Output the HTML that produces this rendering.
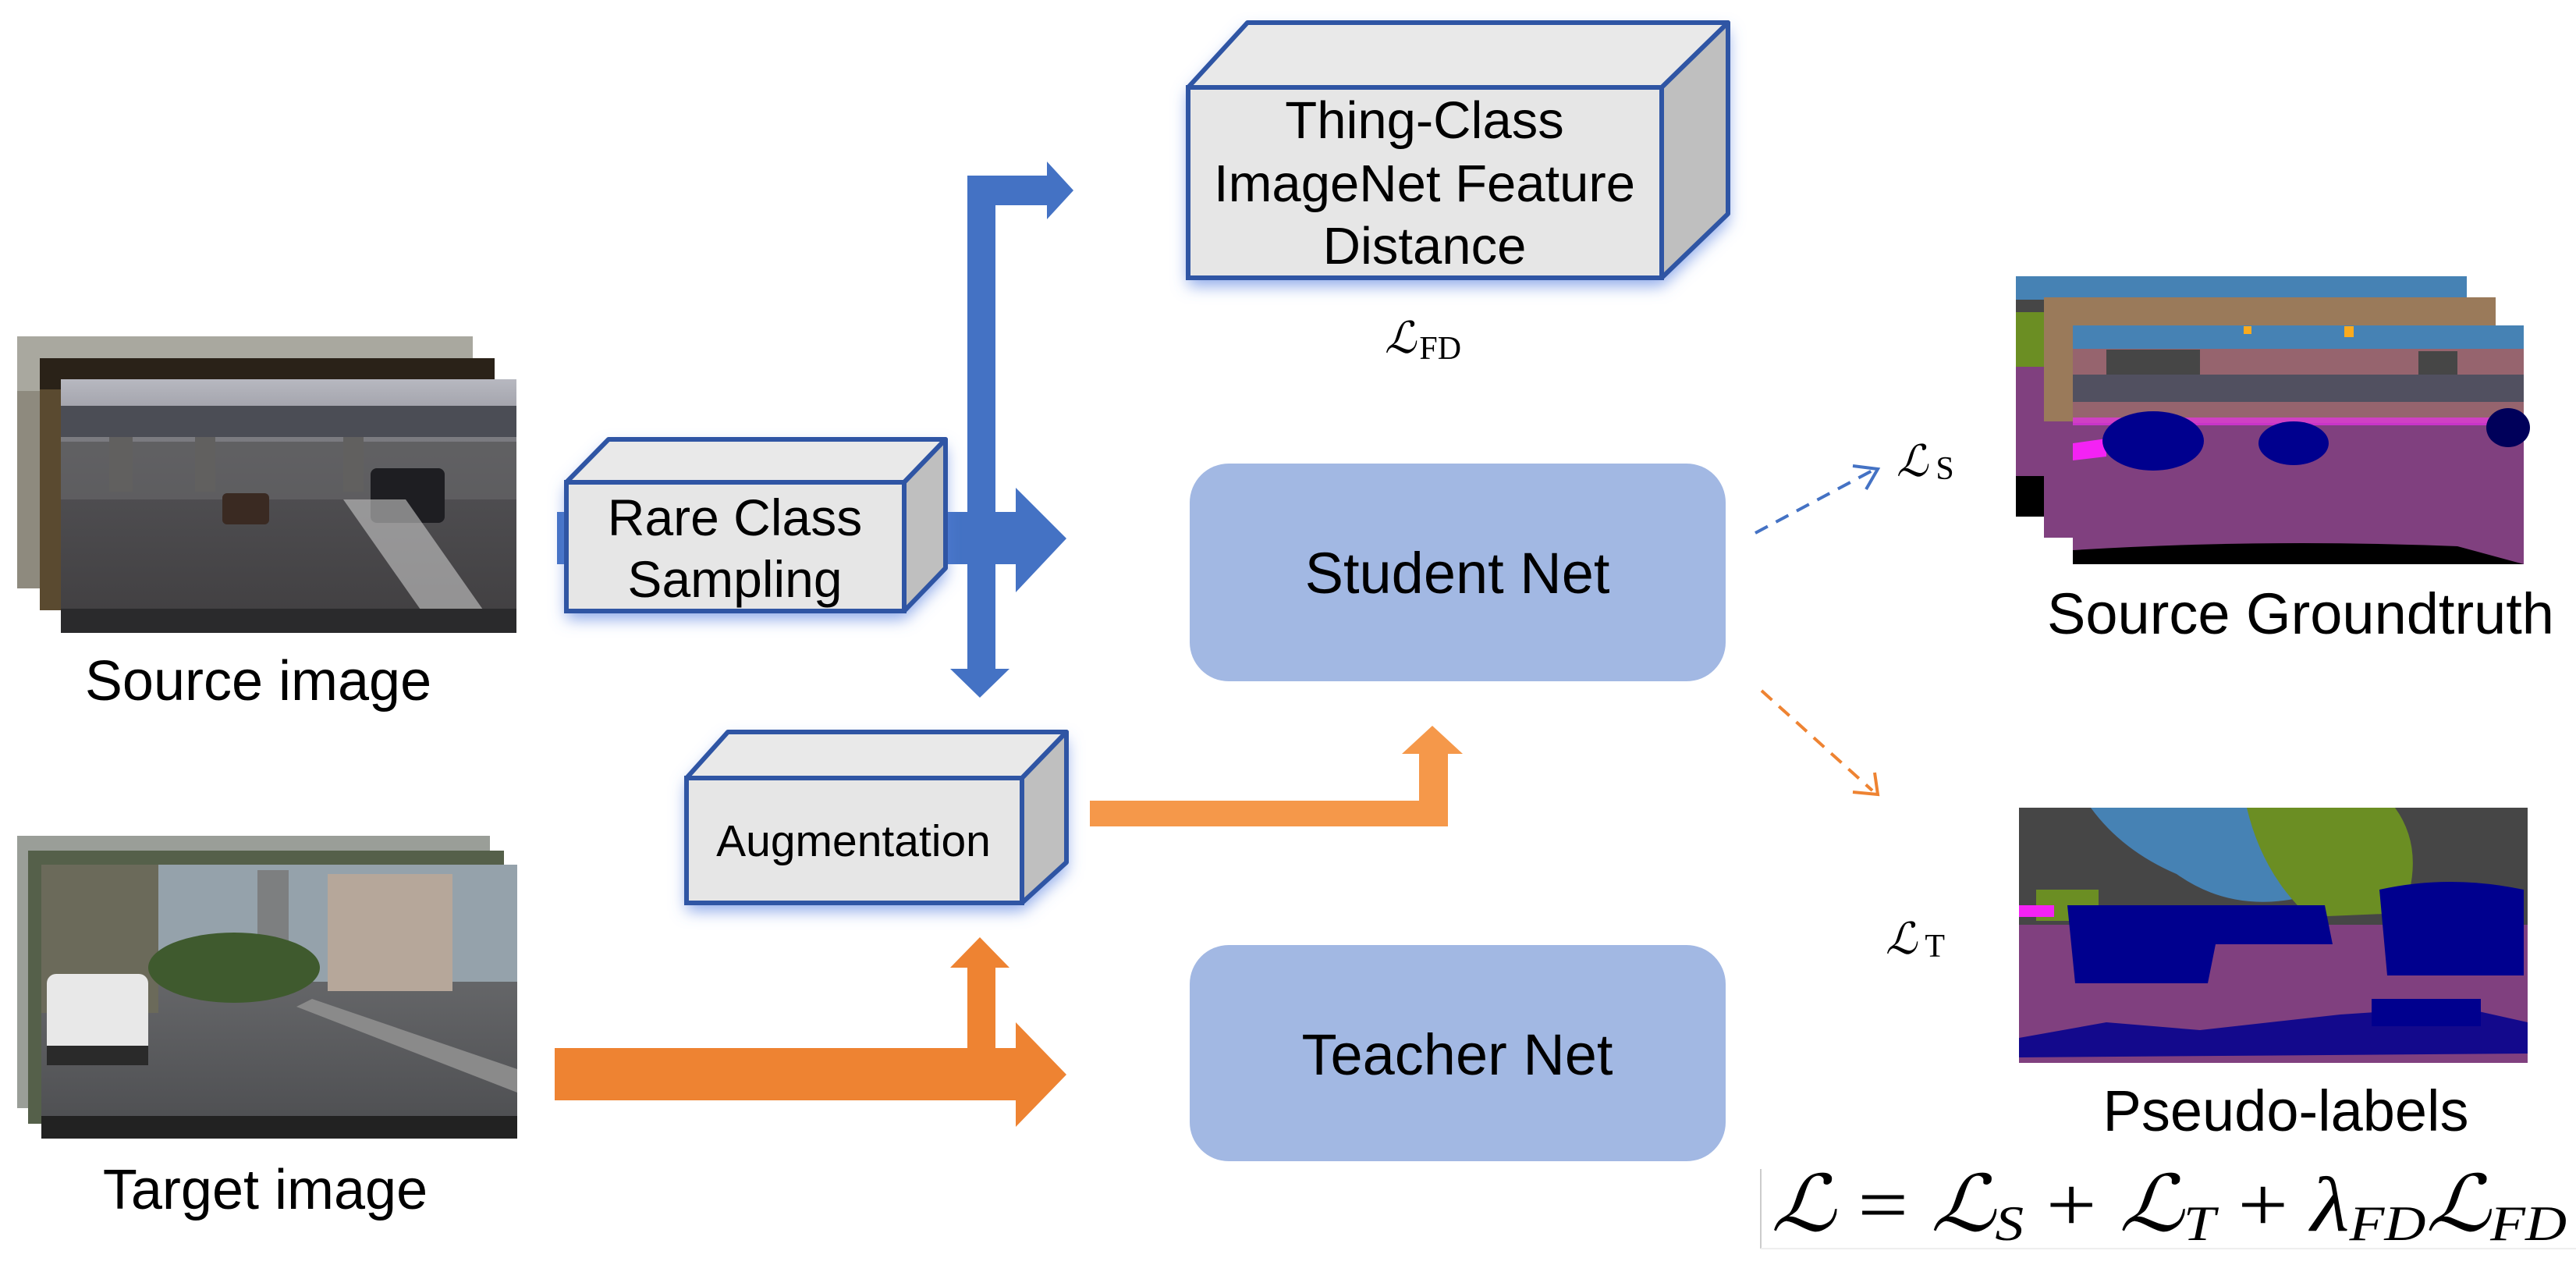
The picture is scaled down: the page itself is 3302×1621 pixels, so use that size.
<!DOCTYPE html>
<html><head><meta charset="utf-8"><style>
html,body{margin:0;padding:0;background:#fff}
svg{display:block}
text{font-family:"Liberation Sans",Arial,sans-serif;fill:#000}
.m{font-family:"Liberation Serif","DejaVu Serif",serif}
</style></head><body>
<svg width="3302" height="1621" viewBox="0 0 3302 1621" xmlns="http://www.w3.org/2000/svg">
<defs>
<filter id="glow" x="-20%" y="-30%" width="140%" height="170%">
<feGaussianBlur in="SourceAlpha" stdDeviation="10" result="b"/>
<feOffset in="b" dx="0" dy="10" result="o"/>
<feFlood flood-color="#5a82e0" flood-opacity="0.7"/>
<feComposite operator="in" in2="o"/>
</filter>
<linearGradient id="sky1" x1="0" y1="0" x2="0" y2="1"><stop offset="0" stop-color="#b7b8c0"/><stop offset="1" stop-color="#8d8d96"/></linearGradient>
<linearGradient id="road1" x1="0" y1="0" x2="0" y2="1"><stop offset="0" stop-color="#5a5a5e"/><stop offset="1" stop-color="#403e40"/></linearGradient>
<linearGradient id="road2" x1="0" y1="0" x2="0" y2="1"><stop offset="0" stop-color="#77787a"/><stop offset="1" stop-color="#4c4d50"/></linearGradient>
</defs>

<!-- Source image stack -->
<rect x="22" y="431" width="584" height="323" fill="#8e8a7e"/>
<rect x="22" y="431" width="584" height="70" fill="#a9a89f"/>
<rect x="51" y="459" width="583" height="323" fill="#5a4a30"/>
<rect x="51" y="459" width="583" height="40" fill="#2a2218"/>
<g>
<rect x="78" y="486" width="584" height="325" fill="url(#road1)"/>
<rect x="78" y="486" width="584" height="80" fill="url(#sky1)"/>
<rect x="78" y="520" width="584" height="40" fill="#4b4d55"/>
<rect x="140" y="560" width="30" height="70" fill="#55524e"/>
<rect x="250" y="560" width="26" height="70" fill="#55524e"/>
<rect x="440" y="560" width="26" height="70" fill="#55524e"/>
<rect x="78" y="560" width="584" height="80" fill="#6c6b6e" opacity="0.55"/>
<rect x="285" y="632" width="60" height="40" rx="6" fill="#3a2a22"/>
<rect x="475" y="600" width="95" height="70" rx="8" fill="#1e1e22"/>
<polygon points="440,640 520,640 640,811 560,811" fill="#c9c9c9" opacity="0.6"/>
<rect x="78" y="780" width="584" height="31" fill="#2a2a2c"/>
</g>
<text x="331" y="897" font-size="72" text-anchor="middle">Source image</text>

<!-- Target image stack -->
<rect x="22" y="1071" width="606" height="349" fill="#9a9e98"/>
<rect x="36" y="1090" width="610" height="350" fill="#55604a"/>
<g>
<rect x="53" y="1108" width="610" height="351" fill="url(#road2)"/>
<rect x="53" y="1108" width="610" height="150" fill="#95a2ab"/>
<rect x="53" y="1108" width="150" height="190" fill="#6b6a5a"/>
<rect x="420" y="1120" width="160" height="150" fill="#b6a79a"/>
<rect x="330" y="1115" width="40" height="140" fill="#7d7f80"/>
<ellipse cx="300" cy="1240" rx="110" ry="45" fill="#3f5a2e"/>
<rect x="60" y="1248" width="130" height="110" rx="12" fill="#e8e8e8"/>
<rect x="60" y="1340" width="130" height="25" fill="#2a2a2a"/>
<polygon points="400,1280 663,1370 663,1400 380,1290" fill="#8a8a8a"/>
<rect x="53" y="1430" width="610" height="29" fill="#222"/>
</g>
<text x="340" y="1549" font-size="72" text-anchor="middle">Target image</text>

<!-- Blue arrows -->
<g fill="#4472c4">
<rect x="714" y="656" width="20" height="67"/>
<rect x="1150" y="656" width="152" height="67"/>
<polygon points="1302,625 1367,690 1302,759"/>
<rect x="1240" y="225" width="36" height="635"/>
<polygon points="1218,857 1294,857 1256,894"/>
<rect x="1240" y="225" width="102" height="38"/>
<polygon points="1342,207 1376,244 1342,281"/>
</g>

<!-- Rare Class box -->
<g>
<polygon points="726,618 780,563 1212,563 1212,728 1159,783 726,783" fill="#000" filter="url(#glow)"/>
<polygon points="726,618 780,563 1212,563 1159,618" fill="#e9e9e9" stroke="#2f55a4" stroke-width="6" stroke-linejoin="round"/>
<polygon points="1159,618 1212,563 1212,728 1159,783" fill="#bfbfbf" stroke="#2f55a4" stroke-width="6" stroke-linejoin="round"/>
<rect x="726" y="618" width="433" height="165" fill="#e6e6e6" stroke="#2f55a4" stroke-width="6"/>
<text x="942" y="686" font-size="66" text-anchor="middle">Rare Class</text>
<text x="942" y="765" font-size="66" text-anchor="middle">Sampling</text>
</g>

<!-- Thing-Class box -->
<g>
<polygon points="1523,112 1599,29 2215,29 2215,274 2130,356 1523,356" fill="#000" filter="url(#glow)"/>
<polygon points="1523,112 1599,29 2215,29 2130,112" fill="#e9e9e9" stroke="#2f55a4" stroke-width="6" stroke-linejoin="round"/>
<polygon points="2130,112 2215,29 2215,274 2130,356" fill="#bfbfbf" stroke="#2f55a4" stroke-width="6" stroke-linejoin="round"/>
<rect x="1523" y="112" width="607" height="244" fill="#e6e6e6" stroke="#2f55a4" stroke-width="6"/>
<text x="1826" y="177" font-size="67" text-anchor="middle">Thing-Class</text>
<text x="1826" y="258" font-size="67" text-anchor="middle">ImageNet Feature</text>
<text x="1826" y="338" font-size="67" text-anchor="middle">Distance</text>
</g>
<text class="m" x="1775" y="452" font-size="56" font-style="italic">ℒ<tspan font-size="42" font-style="normal" dx="4" dy="8">FD</tspan></text>

<!-- Augmentation box -->
<g>
<polygon points="880,997 933,938 1367,938 1367,1105 1310,1157 880,1157" fill="#000" filter="url(#glow)"/>
<polygon points="880,997 933,938 1367,938 1310,997" fill="#e9e9e9" stroke="#2f55a4" stroke-width="6" stroke-linejoin="round"/>
<polygon points="1310,997 1367,938 1367,1105 1310,1157" fill="#bfbfbf" stroke="#2f55a4" stroke-width="6" stroke-linejoin="round"/>
<rect x="880" y="997" width="430" height="160" fill="#e6e6e6" stroke="#2f55a4" stroke-width="6"/>
<text x="1094" y="1097" font-size="57" text-anchor="middle">Augmentation</text>
</g>

<!-- Orange arrows -->
<g fill="#f5984a">
<rect x="1397" y="1026" width="459" height="33"/>
<rect x="1819" y="964" width="37" height="95"/>
<polygon points="1797,966 1875,966 1836,930"/>
</g>
<g fill="#ee8332">
<rect x="711" y="1343" width="591" height="67"/>
<polygon points="1302,1310 1367,1377 1302,1444"/>
<rect x="1240" y="1238" width="36" height="105"/>
<polygon points="1218,1240 1294,1240 1256,1201"/>
</g>

<!-- Student / Teacher -->
<rect x="1525" y="594" width="687" height="279" rx="50" fill="#a2b8e3"/>
<text x="1868" y="760" font-size="74" text-anchor="middle">Student Net</text>
<rect x="1525" y="1211" width="687" height="277" rx="50" fill="#a2b8e3"/>
<text x="1868" y="1377" font-size="74" text-anchor="middle">Teacher Net</text>

<!-- Dashed arrows -->
<line x1="2250" y1="683" x2="2400" y2="603" stroke="#4472c4" stroke-width="4" stroke-dasharray="18,12"/>
<polyline points="2375,597 2407,601 2392,627" fill="none" stroke="#4472c4" stroke-width="4"/>
<line x1="2258" y1="885" x2="2400" y2="1013" stroke="#ee8332" stroke-width="4" stroke-dasharray="18,12"/>
<polyline points="2375,1015 2407,1018 2403,990" fill="none" stroke="#ee8332" stroke-width="4"/>
<text class="m" x="2431" y="610" font-size="56" font-style="italic">ℒ<tspan font-size="42" font-style="normal" dx="10" dy="4">S</tspan></text>
<text class="m" x="2417" y="1222" font-size="56" font-style="italic">ℒ<tspan font-size="42" font-style="normal" dx="10" dy="4">T</tspan></text>

<!-- Source GT stack -->
<rect x="2584" y="354" width="578" height="308" fill="#464646"/>
<rect x="2584" y="354" width="578" height="30" fill="#4682b4"/>
<rect x="2584" y="470" width="578" height="150" fill="#80407f"/>
<rect x="2584" y="610" width="60" height="52" fill="#000"/>
<rect x="2584" y="400" width="40" height="70" fill="#6b8e23"/>
<rect x="2620" y="381" width="579" height="308" fill="#9a7a5a"/>
<rect x="2620" y="540" width="579" height="149" fill="#80407f"/>
<g>
<rect x="2657" y="417" width="578" height="306" fill="#80407f"/>
<rect x="2657" y="417" width="578" height="30" fill="#4682b4"/>
<rect x="2657" y="447" width="578" height="95" fill="#96646e"/>
<rect x="2700" y="448" width="120" height="65" fill="#464646"/>
<rect x="3100" y="450" width="50" height="60" fill="#464646"/>
<rect x="2657" y="480" width="578" height="35" fill="#515060"/>
<rect x="2657" y="535" width="578" height="10" fill="#e831e8" opacity="0.7"/>
<polygon points="2657,568 2700,562 2700,585 2657,590" fill="#f422f4"/>
<ellipse cx="2760" cy="565" rx="65" ry="38" fill="#00008e"/>
<ellipse cx="2940" cy="568" rx="45" ry="28" fill="#00008e"/>
<ellipse cx="3215" cy="548" rx="28" ry="25" fill="#00005a"/>
<path d="M2657,723 L2657,705 Q2900,690 3150,700 L3235,723 Z" fill="#000"/>
<rect x="2876" y="418" width="10" height="10" fill="#faaa1e"/>
<rect x="3005" y="418" width="12" height="14" fill="#faaa1e"/>
</g>
<text x="2949" y="812" font-size="74" text-anchor="middle">Source Groundtruth</text>

<!-- Pseudo labels -->
<g>
<rect x="2588" y="1035" width="652" height="327" fill="#80407f"/>
<rect x="2588" y="1035" width="652" height="150" fill="#464646"/>
<path d="M2680,1035 L2960,1035 L2950,1150 Q2860,1170 2790,1120 Q2720,1090 2680,1035 Z" fill="#4682b4"/>
<path d="M2880,1035 L3070,1035 Q3110,1090 3080,1170 L2960,1175 Q2900,1120 2880,1035 Z" fill="#6b8e23"/>
<rect x="2610" y="1140" width="80" height="40" fill="#6b8e23"/>
<path d="M2650,1160 L2980,1160 L2990,1210 L2840,1210 L2830,1260 L2660,1260 Z" fill="#00008e"/>
<path d="M3050,1140 Q3140,1120 3235,1140 L3235,1250 L3060,1250 Z" fill="#00008e"/>
<rect x="2588" y="1160" width="45" height="15" fill="#f422f4"/>
<path d="M2588,1330 L2700,1310 L2820,1320 L3000,1300 L3150,1290 L3240,1310 L3240,1350 L2588,1355 Z" fill="#00008e" opacity="0.85"/>
<rect x="3040" y="1280" width="140" height="35" fill="#00008e"/>
</g>
<text x="2930" y="1449" font-size="74" text-anchor="middle">Pseudo-labels</text>

<!-- Formula -->
<rect x="2257" y="1498" width="1045" height="123" fill="#fff"/>
<line x1="2257" y1="1498" x2="2257" y2="1600" stroke="#ccc" stroke-width="2"/>
<line x1="2257" y1="1600" x2="3302" y2="1600" stroke="#eee" stroke-width="2"/>
<text class="m" x="2270" y="1577" font-size="100" font-style="italic" textLength="1020" lengthAdjust="spacingAndGlyphs">ℒ<tspan font-style="normal"> = </tspan>ℒ<tspan font-size="64" dy="12">S</tspan><tspan font-style="normal" dy="-12"> + </tspan>ℒ<tspan font-size="64" dy="12">T</tspan><tspan font-style="normal" dy="-12"> + </tspan>λ<tspan font-size="64" dy="12">FD</tspan><tspan dy="-12">ℒ</tspan><tspan font-size="64" dy="12">FD</tspan></text>
</svg>
</body></html>
